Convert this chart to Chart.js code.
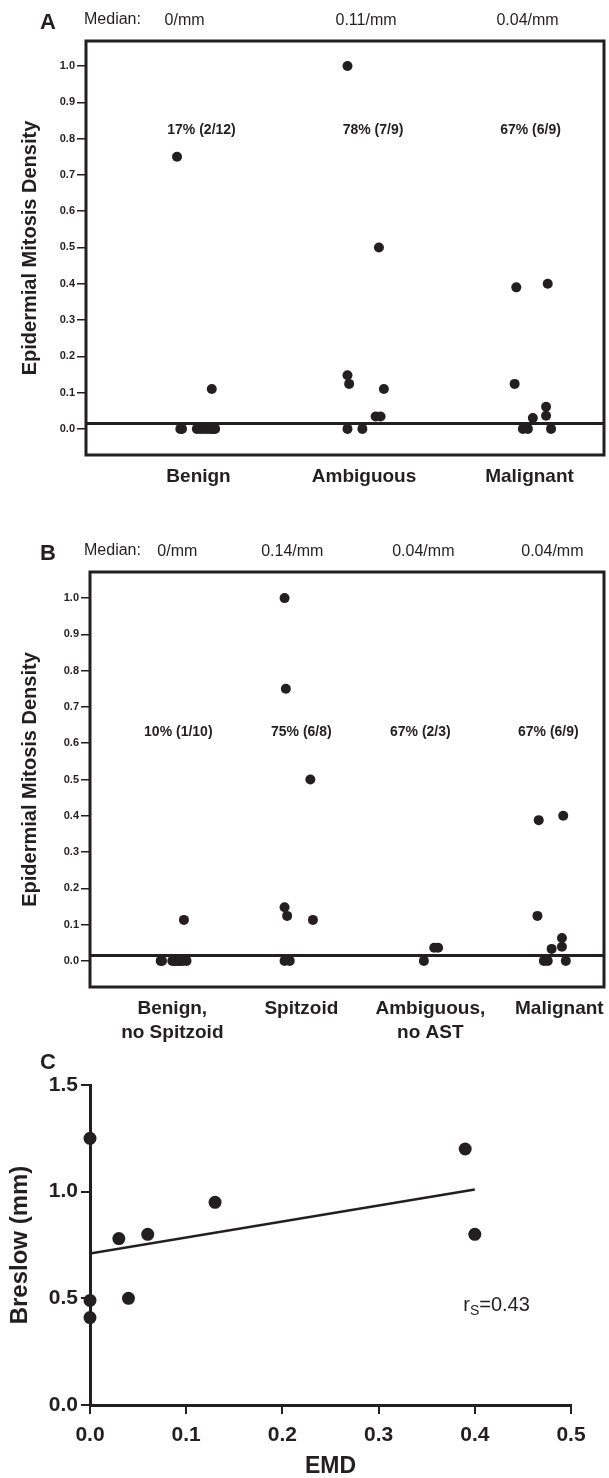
<!DOCTYPE html>
<html lang="en">
<head>
<meta charset="UTF-8">
<title>Epidermal mitosis density</title>
<script src="https://cdn.jsdelivr.net/npm/chart.js"></script>
<style>
    body { margin: 0; background: #fff; }
    #wrap { position: relative; width: 609px; height: 1478px; }
    canvas { position: absolute; left: 0; }
</style>
</head>
<body>
<div id="wrap">
    <canvas id="chartA" width="609" height="500" style="top:0px"></canvas>
    <canvas id="chartB" width="609" height="545" style="top:500px"></canvas>
    <canvas id="chartC" width="609" height="433" style="top:1045px"></canvas>
</div>
<script>
const INK = '#231f20';
const FONT = "'Liberation Sans', Arial, Helvetica, sans-serif";

// ---- panel A ----
const groupsA = ['Benign', 'Ambiguous', 'Malignant'];
const mediansA = ['0/mm', '0.11/mm', '0.04/mm'];
const ratesA = ['17% (2/12)', '78% (7/9)', '67% (6/9)'];
const benignY = [0.75, 0.11, 0, 0, 0, 0, 0, 0, 0, 0, 0, 0];
const benignX = [0.87, 1.08, 0.89, 0.90, 0.99, 1.01, 1.03, 1.05, 1.07, 1.08, 1.09, 1.10];
const ambigY = [1.0, 0.5, 0.148, 0.124, 0.11, 0.034, 0.034, 0, 0];
const ambigX = [1.90, 2.09, 1.90, 1.91, 2.12, 2.07, 2.10, 1.90, 1.99];
const malignY = [0.39, 0.40, 0.124, 0.061, 0.036, 0.03, 0, 0, 0];
const malignX = [2.92, 3.11, 2.91, 3.10, 3.10, 3.02, 2.96, 2.99, 3.13];

// ---- panel B ----
const groupsB = [['Benign,', 'no Spitzoid'], 'Spitzoid', ['Ambiguous,', 'no AST'], 'Malignant'];
const mediansB = ['0/mm', '0.14/mm', '0.04/mm', '0.04/mm'];
const ratesB = ['10% (1/10)', '75% (6/8)', '67% (2/3)', '67% (6/9)'];
const benignNsY = [0.113, 0, 0, 0, 0, 0, 0, 0, 0, 0];
const benignNsX = [1.09, 0.91, 0.92, 1.00, 1.02, 1.03, 1.05, 1.06, 1.08, 1.11];
const spitzY = [1.0, 0.75, 0.5, 0.148, 0.124, 0.113, 0, 0];
const spitzX = [1.87, 1.88, 2.07, 1.87, 1.89, 2.09, 1.87, 1.91];
const ambigNoAstY = [0.036, 0.036, 0];
const ambigNoAstX = [3.03, 3.06, 2.95];
const malignBY = [0.388, 0.40, 0.124, 0.063, 0.039, 0.033, 0, 0, 0];
const malignBX = [3.84, 4.03, 3.83, 4.02, 4.02, 3.94, 3.88, 3.91, 4.05];

const densityTicks = [0, 0.1, 0.2, 0.3, 0.4, 0.5, 0.6, 0.7, 0.8, 0.9, 1.0];
const cutoff = 0.015;

// ---- panel C ----
const emd = [0, 0, 0, 0.03, 0.04, 0.06, 0.13, 0.39, 0.40];
const breslow = [1.25, 0.49, 0.41, 0.78, 0.50, 0.80, 0.95, 1.20, 0.80];
const fitEmd = [0, 0.4];
const fitBreslow = [0.71, 1.01];
const emdTicks = [0, 0.1, 0.2, 0.3, 0.4, 0.5];
const breslowTicks = [0, 0.5, 1.0, 1.5];

Chart.defaults.font.family = FONT;
Chart.defaults.color = INK;

function pts(xs, ys) {
    return xs.map((x, i) => ({ x: x, y: ys[i] }));
}

// keep long end labels from squeezing the plot box
function noSidePad(s) {
    s.paddingLeft = 0;
    s.paddingRight = 0;
    s.paddingTop = 0;
    s.paddingBottom = 0;
}

// frame + header texts for the strip charts
const stripNotes = {
    id: 'stripNotes',
    afterDraw(chart, args, o) {
        const { ctx, chartArea: ca, scales: { x } } = chart;
        ctx.save();
        ctx.strokeStyle = INK;
        ctx.lineWidth = 3;
        ctx.strokeRect(ca.left, ca.top, ca.right - ca.left, ca.bottom - ca.top);

        ctx.fillStyle = INK;
        ctx.textBaseline = 'middle';
        ctx.textAlign = 'left';
        ctx.font = 'bold 22px ' + FONT;
        ctx.fillText(o.letter, 40, o.headY + 3);
        ctx.font = '16px ' + FONT;
        ctx.fillText('Median:', 84, o.headY);
        ctx.textAlign = 'center';
        o.medians.forEach((m, i) => {
            ctx.fillText(m, x.getPixelForValue(i + 1) + o.medianShift[i], o.headY + 1);
        });
        ctx.font = 'bold 14px ' + FONT;
        o.rates.forEach((r, i) => {
            ctx.fillText(r, x.getPixelForValue(i + 1) + o.rateShift[i], o.rateY);
        });
        ctx.restore();
    }
};

function stripChart(id, groups, series, range, lay, notes) {
    const H = document.getElementById(id).height;
    const dotSets = series.map(s => ({
        type: 'scatter',
        data: pts(s[0], s[1]),
        pointRadius: 5,
        pointBackgroundColor: INK,
        pointBorderWidth: 0,
        clip: false
    }));
    dotSets.push({
        type: 'line',
        data: [{ x: range.xmin, y: cutoff }, { x: range.xmax, y: cutoff }],
        borderColor: INK,
        borderWidth: 3,
        pointRadius: 0
    });
    return new Chart(document.getElementById(id), {
        type: 'scatter',
        data: { datasets: dotSets },
        options: {
            responsive: false,
            animation: false,
            layout: { padding: { top: lay.top, right: lay.right, left: 0, bottom: 0 } },
            plugins: { legend: { display: false }, tooltip: { enabled: false }, stripNotes: notes },
            scales: {
                x: {
                    type: 'linear',
                    min: range.xmin,
                    max: range.xmax,
                    afterBuildTicks: s => { s.ticks = groups.map((g, i) => ({ value: i + 1 })); },
                    afterFit: s => { s.height = H - lay.bottom; noSidePad(s); },
                    grid: { display: false, drawTicks: false },
                    border: { display: false },
                    ticks: {
                        autoSkip: false,
                        maxRotation: 0,
                        padding: 9,
                        color: INK,
                        font: { size: 19, weight: 'bold', lineHeight: 1.3 },
                        callback: (v, i) => groups[i]
                    }
                },
                y: {
                    min: range.ymin,
                    max: range.ymax,
                    afterBuildTicks: s => { s.ticks = densityTicks.map(v => ({ value: v })); },
                    afterFit: s => { s.width = lay.left; noSidePad(s); },
                    grid: { drawOnChartArea: false, drawTicks: true, tickLength: 9, color: INK, lineWidth: 1.5 },
                    border: { display: false },
                    ticks: {
                        padding: 2,
                        color: INK,
                        font: { size: 11, weight: 'bold' },
                        callback: v => v.toFixed(1)
                    },
                    title: {
                        display: true,
                        text: 'Epidermial Mitosis Density',
                        color: INK,
                        font: { size: 20, weight: 'bold' },
                        padding: { top: 18, bottom: 0 }
                    }
                }
            }
        },
        plugins: [stripNotes]
    });
}

stripChart('chartA', groupsA,
    [[benignX, benignY], [ambigX, ambigY], [malignX, malignY]],
    { xmin: 0.32, xmax: 3.45, ymin: -0.072, ymax: 1.069 },
    { top: 41, right: 2, left: 86, bottom: 455 },
    { letter: 'A', headY: 20, medians: mediansA, rates: ratesA,
      medianShift: [-14, 2, -2], rateShift: [3, 9, 1], rateY: 130 });

stripChart('chartB', groupsB,
    [[benignNsX, benignNsY], [spitzX, spitzY], [ambigNoAstX, ambigNoAstY], [malignBX, malignBY]],
    { xmin: 0.362, xmax: 4.346, ymin: -0.072, ymax: 1.072 },
    { top: 72, right: 1, left: 90, bottom: 487 },
    { letter: 'B', headY: 51, medians: mediansB, rates: ratesB,
      medianShift: [5, -9, -7, -7], rateShift: [6, 0, -10, -11], rateY: 232 });

// ---- panel C: scatter with fit ----
const rsNote = {
    id: 'rsNote',
    afterDraw(chart, args, o) {
        const { ctx, scales: { x, y } } = chart;
        let px = x.getPixelForValue(o.at[0]);
        const py = y.getPixelForValue(o.at[1]);
        ctx.save();
        ctx.fillStyle = INK;
        ctx.textBaseline = 'alphabetic';
        ctx.textAlign = 'left';
        ctx.font = '20px ' + FONT;
        ctx.fillText('r', px, py + 7);
        px += ctx.measureText('r').width;
        ctx.font = '14px ' + FONT;
        ctx.fillText('S', px, py + 11);
        px += ctx.measureText('S').width;
        ctx.font = '20px ' + FONT;
        ctx.fillText('=0.43', px, py + 7);
        ctx.font = 'bold 22px ' + FONT;
        ctx.textBaseline = 'middle';
        ctx.fillText('C', 40, 18);
        ctx.restore();
    }
};

new Chart(document.getElementById('chartC'), {
    type: 'scatter',
    data: {
        datasets: [{
            data: pts(emd, breslow),
            pointRadius: 6.5,
            pointBackgroundColor: INK,
            pointBorderWidth: 0,
            clip: false,
            order: 0
        }, {
            type: 'line',
            data: pts(fitEmd, fitBreslow),
            borderColor: INK,
            borderWidth: 2.5,
            pointRadius: 0,
            order: 1
        }]
    },
    options: {
        responsive: false,
        animation: false,
        layout: { padding: { top: 40, right: 38, left: 0, bottom: 0 } },
        plugins: { legend: { display: false }, tooltip: { enabled: false }, rsNote: { at: [0.388, 0.473] } },
        scales: {
            x: {
                type: 'linear',
                min: 0,
                max: 0.5,
                afterBuildTicks: s => { s.ticks = emdTicks.map(v => ({ value: v })); },
                afterFit: s => { s.height = 73; noSidePad(s); },
                grid: { drawOnChartArea: false, tickLength: 9, color: INK, lineWidth: 2 },
                border: { display: true, width: 3, color: INK },
                ticks: { padding: 9, color: INK, font: { size: 21, weight: 'bold' }, callback: v => v.toFixed(1) },
                title: { display: true, text: 'EMD', color: INK, font: { size: 23, weight: 'bold', lineHeight: 1 }, padding: { top: 0, bottom: 0 } }
            },
            y: {
                min: 0,
                max: 1.5,
                afterBuildTicks: s => { s.ticks = breslowTicks.map(v => ({ value: v })); },
                afterFit: s => { s.width = 90; noSidePad(s); },
                grid: { drawOnChartArea: false, tickLength: 9, color: INK, lineWidth: 2 },
                border: { display: true, width: 3, color: INK },
                ticks: { padding: 3, color: INK, font: { size: 21, weight: 'bold' }, callback: v => v.toFixed(1) },
                title: { display: true, text: 'Breslow (mm)', color: INK, font: { size: 24, weight: 'bold' }, padding: { top: 6, bottom: 0 } }
            }
        }
    },
    plugins: [rsNote]
});
</script>
</body>
</html>
